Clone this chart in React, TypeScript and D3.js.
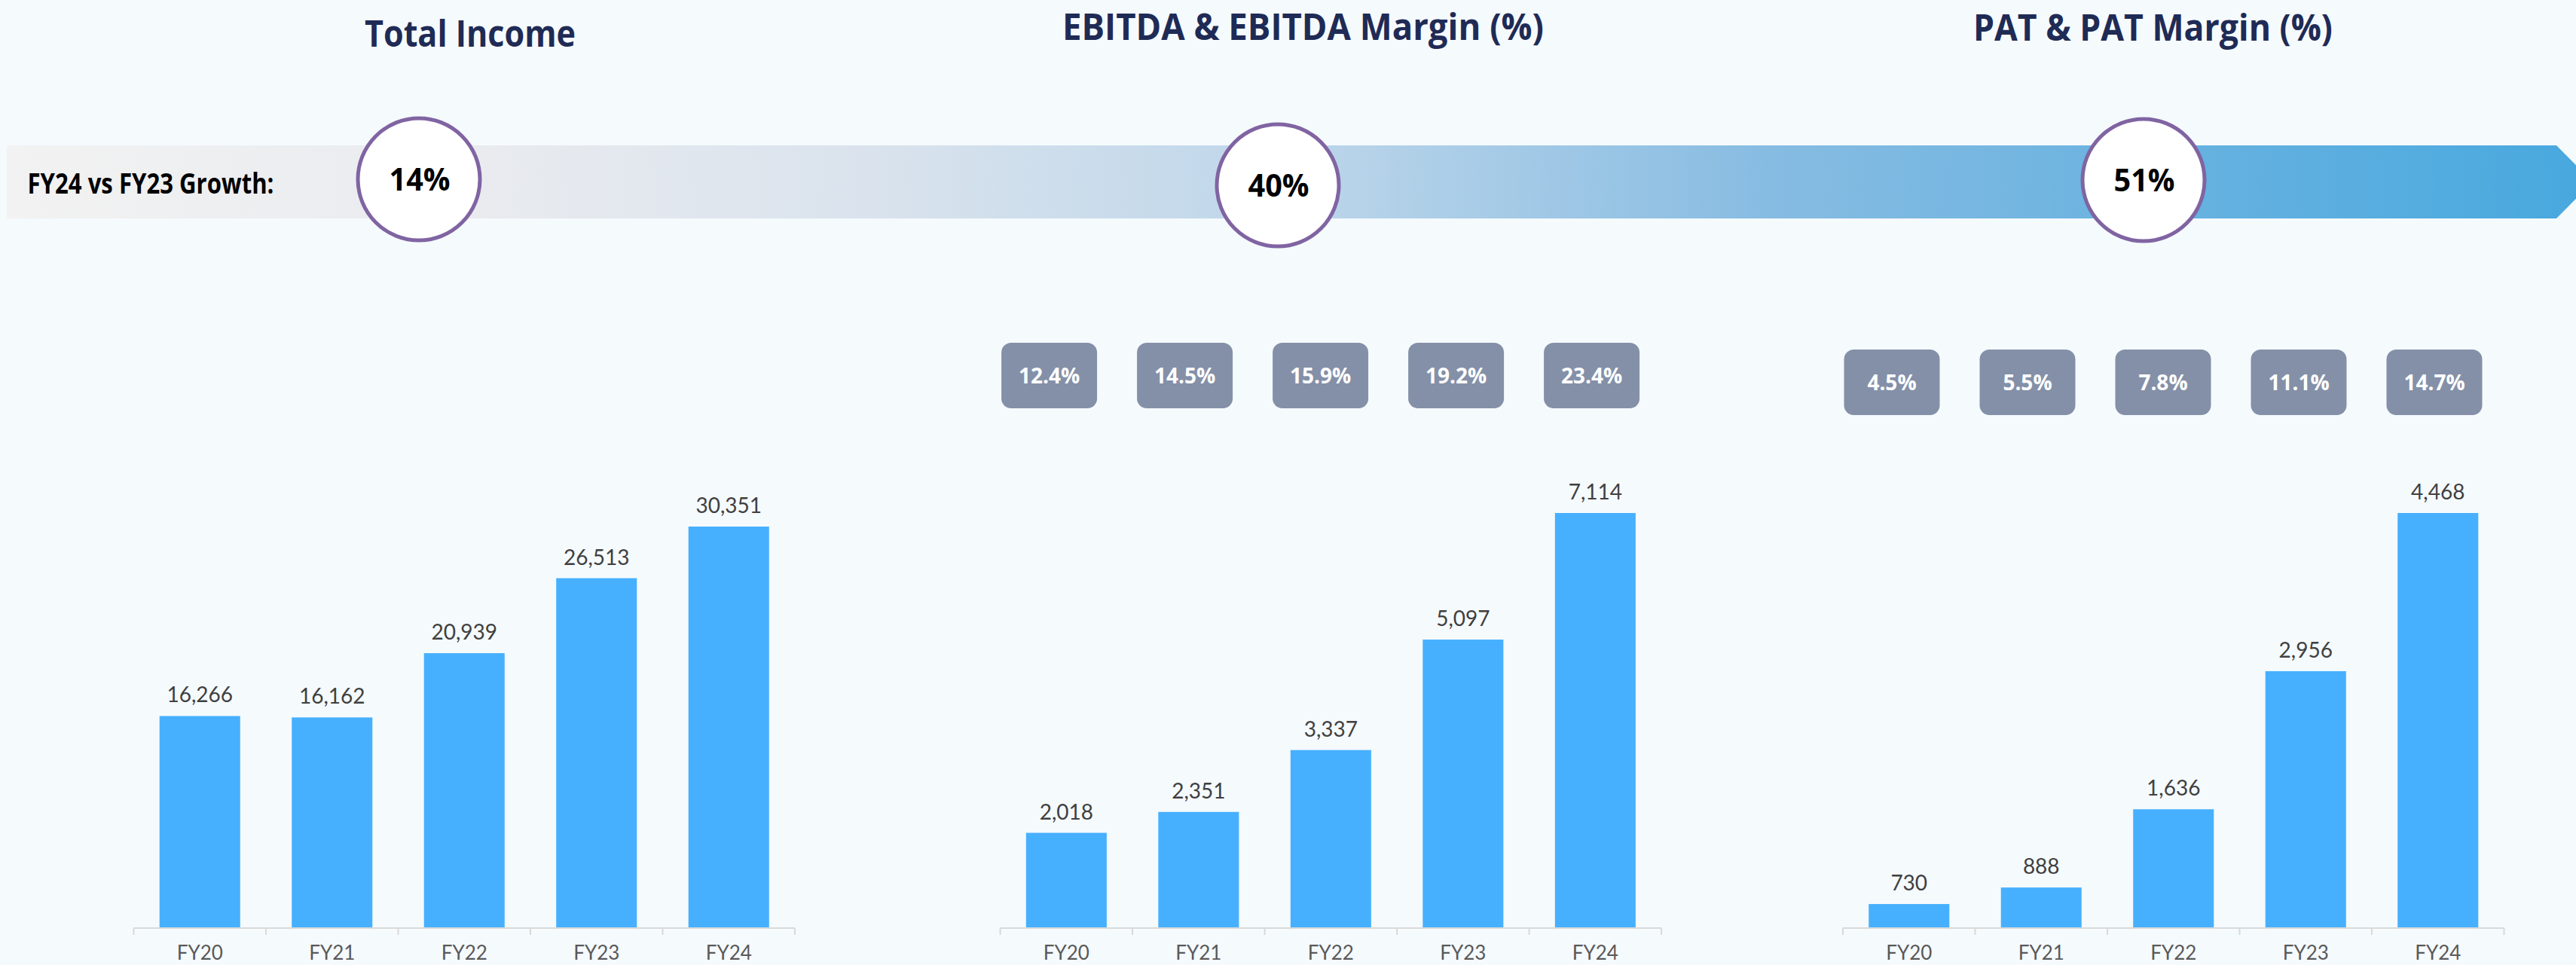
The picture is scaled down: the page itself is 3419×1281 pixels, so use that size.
import React from 'react';
import * as d3 from 'd3';

const categories = ['FY20', 'FY21', 'FY22', 'FY23', 'FY24'];
const totalIncome = [16266, 16162, 20939, 26513, 30351];
const ebitda = [2018, 2351, 3337, 5097, 7114];
const pat = [730, 888, 1636, 2956, 4468];
const ebitdaMargin = ['12.4%', '14.5%', '15.9%', '19.2%', '23.4%'];
const patMargin = ['4.5%', '5.5%', '7.8%', '11.1%', '14.7%'];
const titles = ['Total Income', 'EBITDA & EBITDA Margin (%)', 'PAT & PAT Margin (%)'];
const growthLabel = 'FY24 vs FY23 Growth:';
const growth = ['14%', '40%', '51%'];

const W = 3419;
const H = 1281;
const BASE_Y = 1232;
const AXIS_MIN = 500;
const PANEL_W = 877.5;

const BG = '#f5fafd';
const BAR = '#47b0fe';
const NAVY = '#1f2b55';
const PILL = '#8490a8';
const PURPLE = '#8064a2';

const panels = [
  { title: titles[0], values: totalIncome, margins: null as string[] | null, x0: 177.5, topY: 699, titleCx: 624, titleW: 280, titleY: 62, pillY: 0, circle: { cx: 556, cy: 238, ty: 253 } },
  { title: titles[1], values: ebitda, margins: ebitdaMargin, x0: 1327.6, topY: 681, titleCx: 1729.5, titleW: 639, titleY: 53, pillY: 455, circle: { cx: 1696, cy: 246, ty: 261 } },
  { title: titles[2], values: pat, margins: patMargin, x0: 2446, topY: 681, titleCx: 2857.5, titleW: 477, titleY: 54, pillY: 464, circle: { cx: 2845, cy: 239, ty: 254 } },
];

const fmt = d3.format(',');

function Panel({ p, idx }: { p: typeof panels[number]; idx: number }) {
  const x = d3.scaleBand<string>().domain(categories).range([p.x0, p.x0 + PANEL_W]).paddingInner(0.39).paddingOuter(0.195);
  const y = d3.scaleLinear().domain([AXIS_MIN, d3.max(p.values) as number]).range([BASE_Y, p.topY]);
  const step = x.step();
  const pillX = d3.scalePoint<string>().domain(categories).range([p.x0 + 65, p.x0 + 65 + 720]);
  const pillW = 127;
  const pillH = 87;
  const tickXs = d3.range(categories.length + 1).map((i) => p.x0 + i * step);
  return (
    <g>
      <text x={p.titleCx} y={p.titleY} textAnchor="middle" fontFamily="'Open Sans', sans-serif" fontWeight={700} fontSize={48} fill={NAVY} textLength={p.titleW} lengthAdjust="spacingAndGlyphs">{p.title}</text>
      {p.values.map((v, i) => (
        <g key={categories[i]}>
          <rect x={x(categories[i])} y={y(v)} width={x.bandwidth()} height={BASE_Y - y(v)} fill={BAR} />
          <text x={(x(categories[i]) as number) + x.bandwidth() / 2} y={y(v) - 18} textAnchor="middle" fontFamily="Lato, sans-serif" fontSize={28} fill="#404040">{fmt(v)}</text>
          <text x={(x(categories[i]) as number) + x.bandwidth() / 2} y={1274} textAnchor="middle" fontFamily="Lato, sans-serif" fontSize={26} fill="#595959">{categories[i]}</text>
        </g>
      ))}
      <line x1={p.x0} x2={p.x0 + PANEL_W} y1={BASE_Y} y2={BASE_Y} stroke="#d9d9d9" strokeWidth={2} />
      {tickXs.map((tx, i) => (
        <line key={i} x1={tx} x2={tx} y1={BASE_Y} y2={BASE_Y + 9} stroke="#d9d9d9" strokeWidth={2} />
      ))}
      {p.margins && p.margins.map((m, i) => {
        const cx = pillX(categories[i]) as number;
        return (
          <g key={'m' + i}>
            <rect x={cx - pillW / 2} y={p.pillY} width={pillW} height={pillH} rx={13} ry={13} fill={PILL} />
            <text x={cx} y={p.pillY + pillH / 2 + 10} textAnchor="middle" fontFamily="'Open Sans', sans-serif" fontWeight={700} fontSize={28} fill="#ffffff">{m}</text>
          </g>
        );
      })}
      <circle cx={p.circle.cx} cy={p.circle.cy} r={81} fill="#ffffff" stroke={PURPLE} strokeWidth={5} />
      <text x={p.circle.cx + 1} y={p.circle.ty} textAnchor="middle" fontFamily="'Open Sans', sans-serif" fontWeight={700} fontSize={42} fill="#000000" textLength={81} lengthAdjust="spacingAndGlyphs">{growth[idx]}</text>
    </g>
  );
}

export default function App() {
  return (
    <svg width={W} height={H} style={{ position: 'absolute', left: 0, top: 0, display: 'block' }}>
      <defs>
        <linearGradient id="band" gradientUnits="userSpaceOnUse" x1={9} x2={3441} y1={0} y2={0}>
          <stop offset="0" stopColor="#f2f2f2" />
          <stop offset="0.18" stopColor="#e9ebef" />
          <stop offset="0.33" stopColor="#dae3ed" />
          <stop offset="0.5" stopColor="#bdd6ea" />
          <stop offset="0.68" stopColor="#87bce2" />
          <stop offset="1" stopColor="#47a8de" />
        </linearGradient>
      </defs>
      <rect x={0} y={0} width={W} height={H} fill={BG} />
      <path d="M9,193 H3393 L3441,241.5 L3393,290 H9 Z" fill="url(#band)" />
      <text x={36.5} y={257} fontFamily="'Open Sans', sans-serif" fontWeight={700} fontSize={37} fill="#000000" textLength={327} lengthAdjust="spacingAndGlyphs">{growthLabel}</text>
      {panels.map((p, i) => (
        <Panel key={i} p={p} idx={i} />
      ))}
    </svg>
  );
}
